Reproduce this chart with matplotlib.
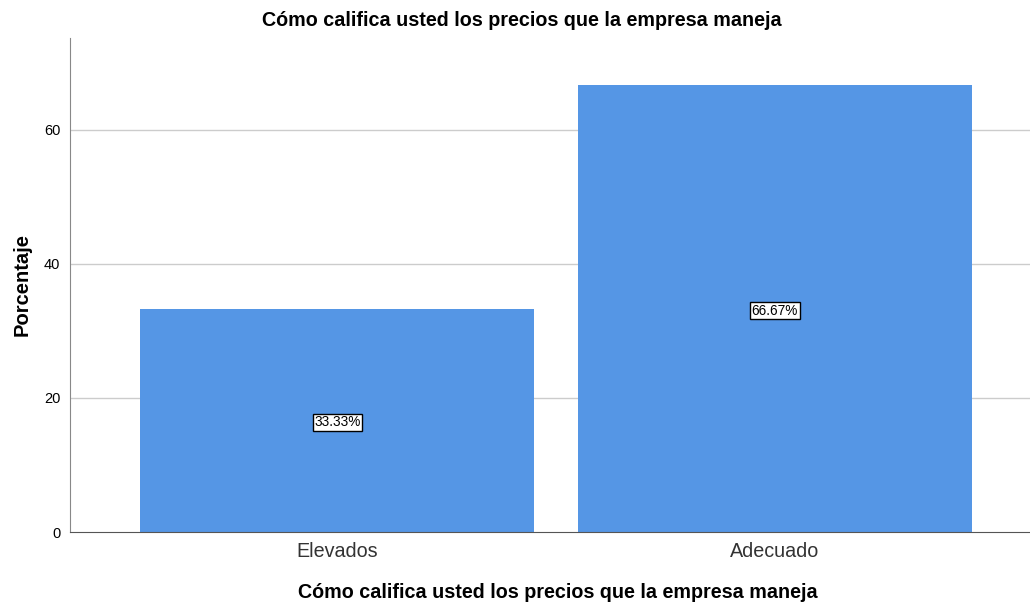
import matplotlib.pyplot as plt

plt.rcParams['font.family'] = ['Liberation Sans', 'DejaVu Sans']

categories = ["Elevados", "Adecuado"]
percentages = [33.33, 66.67]
yticks = [0, 20, 40, 60]
title = "Cómo califica usted los precios que la empresa maneja"

fig = plt.figure(figsize=(10.30, 6.03), dpi=100)
ax = fig.add_axes([70 / 1030, 1 - 532 / 603, 960 / 1030, 494 / 603])

x = list(range(len(categories)))
bars = ax.bar(x, percentages, width=0.9, color="#5596e5", zorder=2)

for rect, val in zip(bars, percentages):
    ax.text(rect.get_x() + rect.get_width() / 2, val / 2 - 0.3, f"{val:.2f}%",
            ha="center", va="center", fontsize=9.8, color="black", zorder=3,
            bbox=dict(boxstyle="square,pad=0.12", facecolor="white",
                      edgecolor="black", linewidth=1))

ax.set_xlim(-0.611, 1.583)
ax.set_ylim(0, 73.7)
ax.set_yticks(yticks)
ax.set_xticks(x)
ax.set_xticklabels(categories, fontsize=14.2, color="#333333")
ax.tick_params(axis="y", length=0, labelsize=10.5, pad=7)
ax.tick_params(axis="x", length=0, pad=7)

for y in yticks[1:]:
    ax.axhline(y, color="#cccccc", linewidth=1, zorder=1)

for side in ("top", "right"):
    ax.spines[side].set_visible(False)
ax.spines["left"].set_color("#888888")
ax.spines["bottom"].set_color("#555555")

ax.set_ylabel("Porcentaje", fontsize=14.5, fontweight="bold")
ax.yaxis.set_label_coords(-0.040, 0.5)
ax.set_xlabel(title, fontsize=14.2, fontweight="bold")
ax.xaxis.set_label_coords(0.508, -0.104)
fig.text(522 / 1030, 1 - 20 / 603, title, ha="center", va="center",
         fontsize=14.2, fontweight="bold")

fig.savefig("out.png", dpi=100)
